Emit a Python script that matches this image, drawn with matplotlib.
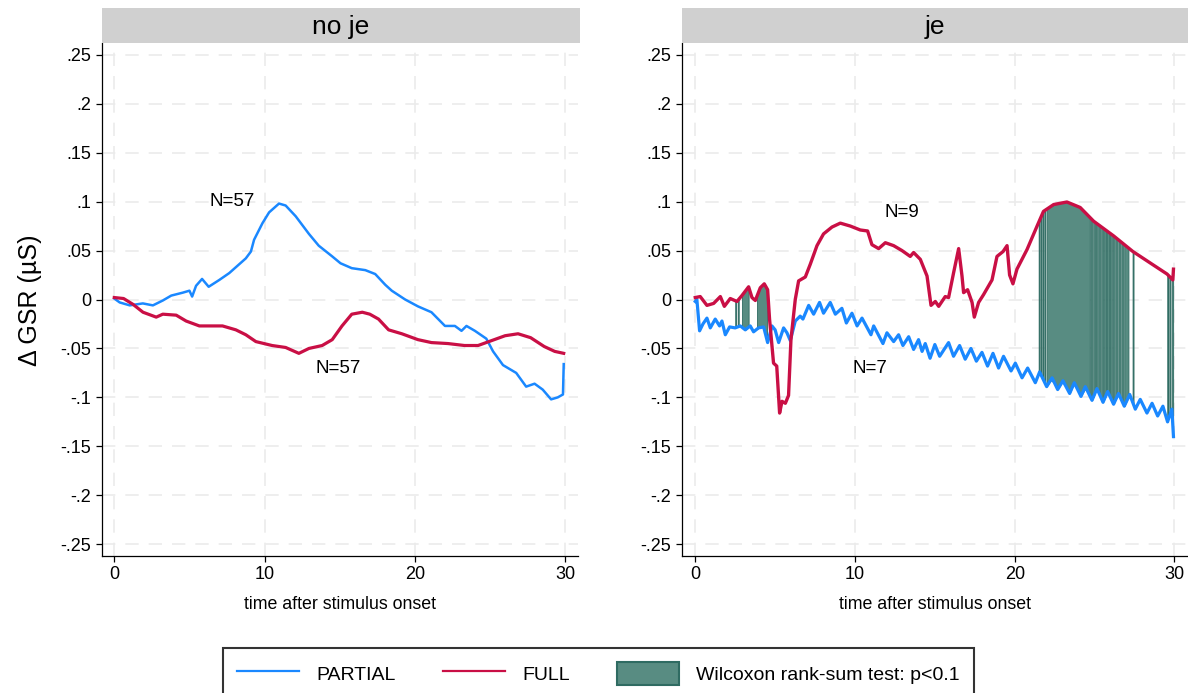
"""
GSR response after stimulus onset, PARTIAL vs FULL, split by je / no je.
Shaded bands mark time points where the Wilcoxon rank-sum test gives p<0.1.
"""

import numpy as np
import matplotlib.pyplot as plt
from matplotlib.lines import Line2D
from matplotlib.patches import Patch

plt.rcParams["font.family"] = ["Liberation Sans", "DejaVu Sans"]

BLUE = "#1A88FF"
RED = "#C90F45"
SIG_FACE = "#588C82"
SIG_EDGE = "#2F6B62"

# ---- no je panel -------------------------------------------------------
nj_partial_t = [0.0, 0.36, 1.03, 1.9, 2.57, 3.23, 3.79, 4.56, 5.0, 5.18, 5.44, 5.84,
                6.28, 6.99, 7.65, 8.09, 8.75, 9.09, 9.3, 9.86, 10.3, 10.96, 11.4,
                12.07, 12.95, 13.6, 14.5, 15.05, 15.8, 16.7, 17.36, 18.03, 18.46,
                19.35, 20.2, 21.1, 22.0, 22.66, 23.1, 23.43, 23.99, 24.75, 25.2,
                25.86, 26.74, 27.4, 27.96, 28.5, 29.06, 29.5, 29.85, 29.9]
nj_partial_y = [0.001, -0.003, -0.006, -0.004, -0.006, -0.001, 0.004, 0.007, 0.009,
                0.003, 0.014, 0.021, 0.013, 0.020, 0.027, 0.033, 0.042, 0.049, 0.061,
                0.078, 0.089, 0.098, 0.096, 0.085, 0.067, 0.055, 0.044, 0.037, 0.032,
                0.030, 0.026, 0.015, 0.009, 0.0, -0.007, -0.013, -0.027, -0.027,
                -0.032, -0.027, -0.032, -0.040, -0.053, -0.067, -0.075, -0.089,
                -0.086, -0.092, -0.102, -0.100, -0.097, -0.066]

nj_full_t = [0.0, 0.62, 1.25, 1.91, 2.79, 3.23, 4.12, 4.78, 5.66, 6.54, 7.2, 8.09,
             8.75, 9.42, 10.5, 11.4, 12.28, 12.95, 13.83, 14.5, 15.15, 15.8, 16.5,
             17.0, 17.58, 18.25, 19.13, 20.2, 21.1, 22.2, 23.3, 24.2, 25.1, 26.0,
             26.86, 27.7, 28.6, 29.3, 29.9]
nj_full_y = [0.002, 0.001, -0.005, -0.013, -0.018, -0.015, -0.016, -0.022, -0.027,
             -0.027, -0.027, -0.031, -0.036, -0.043, -0.047, -0.049, -0.055, -0.050,
             -0.047, -0.041, -0.027, -0.015, -0.013, -0.015, -0.020, -0.031, -0.035,
             -0.041, -0.044, -0.045, -0.047, -0.047, -0.042, -0.037, -0.035, -0.039,
             -0.048, -0.053, -0.055]

# ---- je panel ----------------------------------------------------------
je_partial_t = [0.0, 0.1, 0.27, 0.48, 0.73, 0.94, 1.25, 1.52, 1.67, 1.88, 2.15, 2.5,
                2.82, 3.13, 3.44, 3.65, 3.96, 4.28, 4.53, 4.8, 5.0, 5.22, 5.53, 5.74,
                5.95, 6.26, 6.57, 6.74, 7.1, 7.41, 7.78, 8.03, 8.45, 8.77, 9.18, 9.46,
                9.81, 10.13, 10.44, 11.0, 11.17, 11.75, 12.0, 12.42, 12.73, 13.0,
                13.36, 13.67, 13.98, 14.2, 14.4, 14.7, 15.0, 15.3, 15.86, 16.17,
                16.55, 16.9, 17.26, 17.6, 17.95, 18.3, 18.64, 18.99, 19.3, 19.77,
                20.04, 20.46, 20.81, 21.29, 21.56, 22.0, 22.34, 22.69, 23.02, 23.44,
                23.73, 24.15, 24.42, 24.84, 25.15, 25.53, 25.82, 26.19, 26.5, 26.86,
                27.2, 27.55, 27.86, 28.28, 28.6, 28.95, 29.28, 29.57, 29.84, 29.94]
je_partial_y = [-0.002, 0.0, -0.032, -0.025, -0.019, -0.029, -0.020, -0.027, -0.022,
                -0.036, -0.028, -0.029, -0.027, -0.031, -0.027, -0.033, -0.029,
                -0.028, -0.044, -0.027, -0.031, -0.044, -0.029, -0.034, -0.042,
                -0.022, -0.017, -0.020, -0.006, -0.015, -0.003, -0.014, -0.003,
                -0.015, -0.009, -0.024, -0.014, -0.027, -0.019, -0.036, -0.027,
                -0.045, -0.034, -0.043, -0.036, -0.047, -0.038, -0.051, -0.041,
                -0.053, -0.045, -0.060, -0.046, -0.058, -0.044, -0.058, -0.047,
                -0.061, -0.050, -0.063, -0.054, -0.068, -0.055, -0.070, -0.058,
                -0.073, -0.065, -0.080, -0.070, -0.085, -0.074, -0.089, -0.080,
                -0.092, -0.083, -0.096, -0.085, -0.099, -0.089, -0.103, -0.091,
                -0.105, -0.094, -0.107, -0.096, -0.109, -0.097, -0.112, -0.102,
                -0.116, -0.106, -0.119, -0.109, -0.125, -0.112, -0.140]

je_full_t = [0.0, 0.31, 0.73, 1.15, 1.57, 1.82, 2.19, 2.61, 2.92, 3.34, 3.55, 3.76,
             4.07, 4.32, 4.53, 4.65, 4.9, 5.1, 5.28, 5.43, 5.64, 5.84, 5.99, 6.26,
             6.47, 6.89, 7.2, 7.62, 8.03, 8.56, 9.08, 9.71, 10.33, 10.79, 11.06,
             11.48, 11.9, 12.42, 12.94, 13.46, 13.67, 14.09, 14.51, 14.76, 15.03,
             15.24, 15.65, 15.86, 16.17, 16.49, 16.7, 16.8, 17.05, 17.33, 17.47,
             17.74, 18.05, 18.58, 18.89, 19.27, 19.52, 19.68, 19.89, 20.14, 20.77,
             21.4, 21.8, 22.44, 23.27, 24.1, 24.94, 26.19, 27.4, 28.7, 29.54, 29.9,
             29.94]
je_full_y = [0.002, 0.003, -0.006, -0.004, 0.003, -0.007, 0.001, -0.002, 0.004,
             0.013, 0.002, -0.001, 0.012, 0.016, 0.010, -0.020, -0.065, -0.068,
             -0.116, -0.104, -0.106, -0.098, -0.041, 0.0, 0.019, 0.023, 0.036,
             0.055, 0.067, 0.074, 0.078, 0.075, 0.071, 0.070, 0.056, 0.052, 0.058,
             0.055, 0.050, 0.044, 0.048, 0.041, 0.024, -0.006, -0.002, -0.007,
             0.003, 0.002, 0.027, 0.052, 0.024, 0.007, 0.010, -0.003, -0.018,
             -0.003, 0.005, 0.020, 0.044, 0.049, 0.055, 0.025, 0.016, 0.031, 0.051,
             0.075, 0.090, 0.097, 0.0996, 0.094, 0.080, 0.065, 0.049, 0.035, 0.026,
             0.020, 0.031]

# time windows with p<0.1 (je panel only)
sig_start = [2.5, 2.66, 2.92, 3.86, 21.5, 21.62, 21.74, 21.86, 22.0, 24.75, 24.92,
             25.08, 25.26, 25.42, 25.6, 25.78, 25.96, 26.14, 26.32, 26.5, 26.68,
             26.86, 27.38, 29.55, 29.68, 29.82]
sig_end = [2.56, 2.72, 3.34, 4.49, 21.56, 21.68, 21.8, 21.92, 24.7, 24.86, 25.02,
           25.2, 25.36, 25.54, 25.72, 25.9, 26.08, 26.26, 26.44, 26.62, 26.8, 27.12,
           27.44, 29.6, 29.74, 29.92]

y_ticks = [0.25, 0.2, 0.15, 0.1, 0.05, 0.0, -0.05, -0.1, -0.15, -0.2, -0.25]
y_tick_labels = [".25", ".2", ".15", ".1", ".05", "0", "-.05", "-.1", "-.15", "-.2", "-.25"]
x_ticks = [0, 10, 20, 30]

W, H = 1188, 693


def style_panel(ax, title, px_left, px_right):
    """Stata-like look: dashed light grid, left/bottom spines, grey title strip."""
    ax.set_xlim(-0.85, 30.85)
    ax.set_ylim(-0.262, 0.262)
    ax.set_yticks(y_ticks)
    ax.set_yticklabels(y_tick_labels)
    ax.set_xticks(x_ticks)
    ax.tick_params(labelsize=13, length=4.5, width=0.9, pad=3, colors="black")
    ax.grid(True, color="#EBEBEB", linewidth=1.2, linestyle=(0, (8, 6)), zorder=0)
    ax.set_axisbelow(True)
    for side in ("top", "right"):
        ax.spines[side].set_visible(False)
    for side in ("left", "bottom"):
        ax.spines[side].set_linewidth(0.9)
    ax.set_xlabel("time after stimulus onset", fontsize=12.8, labelpad=9)

    strip = ax.figure.add_axes([px_left / W, 1 - 43 / H, (px_right - px_left) / W, 35 / H])
    strip.set_facecolor("#D0D0D0")
    strip.set_xticks([])
    strip.set_yticks([])
    for s in strip.spines.values():
        s.set_visible(False)
    strip.text(0.5, 0.45, title, ha="center", va="center", fontsize=19,
               transform=strip.transAxes)


fig = plt.figure(figsize=(W / 100, H / 100), dpi=100)

bottom, top = 556, 43
ax_l = fig.add_axes([101.5 / W, 1 - bottom / H, (578 - 101.5) / W, (bottom - top) / H])
ax_r = fig.add_axes([681.7 / W, 1 - bottom / H, (1188 - 681.7) / W, (bottom - top) / H])

# left panel
ax_l.plot(nj_partial_t, nj_partial_y, color=BLUE, lw=1.8, zorder=3)
ax_l.plot(nj_full_t, nj_full_y, color=RED, lw=2.3, zorder=3)
ax_l.text(7.87, 0.0996, "N=57", ha="center", va="center", fontsize=13.5)
ax_l.text(14.89, -0.070, "N=57", ha="center", va="center", fontsize=13.5)
style_panel(ax_l, "no je", 101.5, 580)

# right panel, significance bands first so the lines sit on top
for t0, t1 in zip(sig_start, sig_end):
    tt = np.linspace(t0, t1, 12)
    lo = np.interp(tt, je_partial_t, je_partial_y)
    hi = np.interp(tt, je_full_t, je_full_y)
    ax_r.fill_between(tt, lo, hi, facecolor=SIG_FACE, edgecolor=SIG_EDGE,
                      linewidth=0.6, zorder=2)
ax_r.plot(je_partial_t, je_partial_y, color=BLUE, lw=2.3, zorder=3,
          solid_joinstyle="round")
ax_r.plot(je_full_t, je_full_y, color=RED, lw=2.4, zorder=3)
ax_r.text(12.94, 0.089, "N=9", ha="center", va="center", fontsize=13.5)
ax_r.text(10.96, -0.070, "N=7", ha="center", va="center", fontsize=13.5)
style_panel(ax_r, "je", 681.7, 1188)

fig.text(30 / W, 1 - 300 / H, "\u0394 GSR (\u00b5S)", rotation=90, ha="center",
         va="center", fontsize=18)

handles = [
    Line2D([], [], color=BLUE, lw=1.6),
    Line2D([], [], color=RED, lw=1.6),
    Patch(facecolor=SIG_FACE, edgecolor=SIG_EDGE, linewidth=1.5),
]
leg = fig.legend(handles, ["PARTIAL", "FULL", "Wilcoxon rank-sum test: p<0.1"],
                 loc="upper center", bbox_to_anchor=(598.5 / W, 1 - 648 / H),
                 ncol=3, fontsize=14, frameon=True, fancybox=False,
                 handlelength=3.2, handleheight=1.5, handletextpad=0.9,
                 columnspacing=2.4, borderpad=0.7, borderaxespad=0)
leg.get_frame().set_edgecolor("black")
leg.get_frame().set_linewidth(1.5)

fig.savefig("out.png", dpi=100)
